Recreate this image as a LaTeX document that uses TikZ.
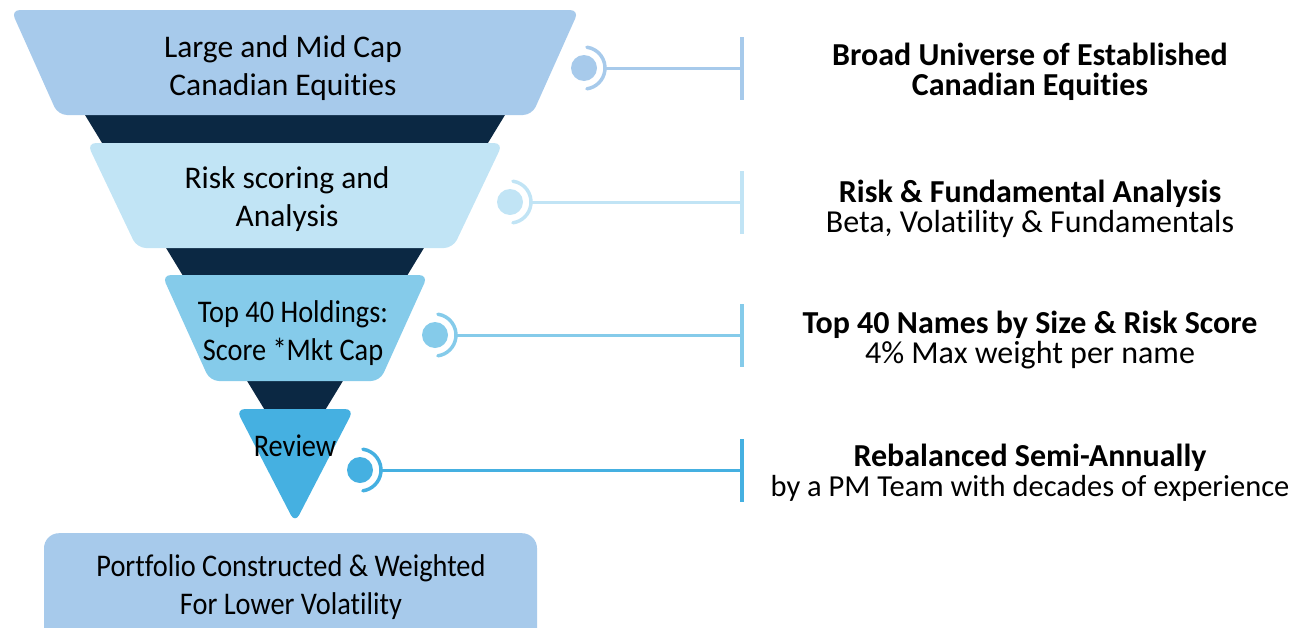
\documentclass[tikz,border=0pt]{standalone}
\usepackage{fontspec}
\setmainfont{Carlito}[Ligatures=NoCommon]
\newfontfamily\narrowfont{Carlito}[FakeStretch=0.9,Ligatures=NoCommon]
\usetikzlibrary{positioning}
\definecolor{capblue}{RGB}{167,202,235}
\definecolor{riskblue}{RGB}{193,228,245}
\definecolor{topblue}{RGB}{133,203,234}
\definecolor{reviewblue}{RGB}{69,176,225}
\definecolor{funnelnavy}{RGB}{11,40,67}

\begin{document}
\begin{tikzpicture}[x=1pt,y=-1pt,
band/.style={rounded corners=9pt},
stagetext/.style={align=center,inner sep=0pt,font=\fontsize{31.5}{38}\selectfont},
narrowtext/.style={align=center,inner sep=0pt,font=\narrowfont\fontsize{31.5}{38}\selectfont},
desc/.style={align=center,inner sep=0pt,font=\fontsize{32}{30}\selectfont},
dotnode/.style={circle,fill=#1,minimum size=26pt,inner sep=0pt},
barnode/.style={rectangle,fill=#1,minimum width=4pt,minimum height=63pt,inner sep=0pt},
ring/.style={draw=#1,line width=3.5pt,line cap=round},
link/.style={draw=#1,line width=3pt}]
\clip (0,0) rectangle (1302,627);
\fill[funnelnavy] (85,115) -- (505,115) -- (324,412) -- (266,412) -- cycle;
\fill[capblue,band] (11,10) -- (579,10) -- (532,115) -- (58,115) -- cycle;
\fill[riskblue,band] (87,143) -- (503,143) -- (453,248) -- (137,248) -- cycle;
\fill[topblue,band] (162,275) -- (428,275) -- (380,381) -- (210,381) -- cycle;
\fill[reviewblue,band] (236,409) -- (354,409) -- (295,523) -- cycle;
\node[fill=capblue,rounded corners=15pt,minimum width=493pt,minimum height=120pt,anchor=north] (portfoliobox) at (290.5,533) {};

\node[stagetext] (large) at (283,68) {Large and Mid Cap\\Canadian Equities};
\node[stagetext] (risk) at (287,199) {Risk scoring and\\Analysis};
\node[narrowtext] (top) at (293,333) {Top 40 Holdings:\\Score *Mkt Cap};
\node[narrowtext] (review) at (295,446) {Review};
\node[narrowtext] (portfolio) at (291,587) {Portfolio Constructed \& Weighted\\For Lower Volatility};

\node[desc] (broad) at (1030,72) {\textbf{Broad Universe of Established}\\\textbf{Canadian Equities}};
\node[desc] (analysis) at (1030,208.5) {\textbf{Risk \& Fundamental Analysis}\\Beta, Volatility \& Fundamentals};
\node[desc] (names) at (1030,340.5) {\textbf{Top 40 Names by Size \& Risk Score}\\4\% Max weight per name};
\node[desc] (rebalance) at (1030,473) {\textbf{Rebalanced Semi-Annually}\\\fontsize{30.5}{30}\selectfont by a PM Team with decades of experience};

\foreach \n/\x/\y/\c in {1/584/68/capblue,2/510/202/riskblue,3/435/335/topblue,4/360/470/reviewblue}{
  \node[dotnode=\c] (dot\n) at (\x,\y) {};
  \node[barnode=\c] (bar\n) at (742,\y) {};
  \coordinate (tip\n) at ([xshift=21pt]dot\n.center);
  \draw[ring=\c] (dot\n.center) ++(-82:21) arc[start angle=-82,end angle=82,radius=21];
  \draw[link=\c] (tip\n) -- (bar\n);
}
\end{tikzpicture}
\end{document}
